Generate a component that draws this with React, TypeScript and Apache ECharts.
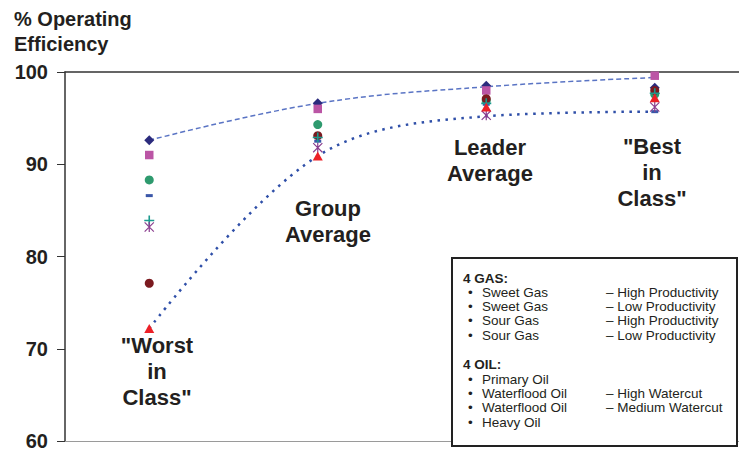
import React, { useEffect, useRef } from "react";
import * as echarts from "echarts";

const categories = ['"Worst in Class"', "Group Average", "Leader Average", '"Best in Class"'];
const yTicks = [60, 70, 80, 90, 100];

const sweetGasHigh = [92.6, 96.6, 98.5, 98.3];
const sweetGasLow = [91.0, 96.0, 98.0, 99.6];
const sourGasHigh = [88.3, 94.3, 96.9, 97.6];
const sourGasLow = [86.6, 92.5, 96.5, 95.7];
const primaryOil = [77.1, 93.1, 97.1, 98.0];
const waterfloodHigh = [83.9, 92.9, 96.6, 97.7];
const waterfloodMedium = [83.2, 91.8, 95.3, 96.2];
const heavyOil = [72.2, 90.9, 96.2, 97.2];

const upperEnvelope = [92.6, 96.6, 98.4, 99.4];
const lowerEnvelope = [72.2, 90.9, 95.2, 95.7];

const gasItems = [
  ["Sweet Gas", "– High Productivity"],
  ["Sweet Gas", "– Low Productivity"],
  ["Sour Gas", "– High Productivity"],
  ["Sour Gas", "– Low Productivity"],
];
const oilItems = [
  ["Primary Oil", ""],
  ["Waterflood Oil", "– High Watercut"],
  ["Waterflood Oil", "– Medium Watercut"],
  ["Heavy Oil", ""],
];

const categoryLabelLines = [
  ['"Worst', "in", 'Class"'],
  ["Group", "Average"],
  ["Leader", "Average"],
  ['"Best', "in", 'Class"'],
];

const FONT = "'Liberation Sans', Arial, sans-serif";

const PLUS = "path://M4.2,0H5.8V4.2H10V5.8H5.8V10H4.2V5.8H0V4.2H4.2Z";
const STAR =
  "path://M4.4,0H5.6V10H4.4Z M0,0.8L0.8,0L10,9.2L9.2,10Z M9.2,0L10,0.8L0.8,10L0,9.2Z";

export default function App() {
  const ref = useRef<HTMLDivElement>(null);
  useEffect(() => {
    if (!ref.current) return;
    const chart = echarts.init(ref.current, null, { renderer: "svg" });

    const scatter = (name: string, data: number[], symbol: string, size: any, color: string, z: number) => ({
      name,
      type: "scatter",
      data,
      symbol,
      symbolSize: size,
      itemStyle: { color, opacity: 1 },
      z,
    });

    const graphics: any[] = [];
    graphics.push({
      type: "text",
      left: 14,
      top: 6,
      style: {
        text: "% Operating\nEfficiency",
        font: `bold 20px ${FONT}`,
        fill: "#231f20",
        lineHeight: 25,
      },
    });
    const catPos = [
      { x: 157, y: 371 },
      { x: 328, y: 221.5 },
      { x: 490, y: 160.5 },
      { x: 652, y: 172.5 },
    ];
    categoryLabelLines.forEach((lines, i) => {
      graphics.push({
        type: "text",
        x: catPos[i].x,
        y: catPos[i].y,
        style: {
          text: lines.join("\n"),
          font: `bold 22px ${FONT}`,
          fill: "#231f20",
          align: "center",
          verticalAlign: "middle",
          lineHeight: 26,
        },
        z: 10,
      });
    });
    graphics.push({
      type: "rect",
      shape: { x: 452, y: 258, width: 285, height: 188 },
      style: { fill: "#ffffff", stroke: "#222222", lineWidth: 2 },
      z: 20,
    });
    const LF = `13.5px ${FONT}`;
    const addHeading = (t: string, y: number) =>
      graphics.push({
        type: "text",
        x: 463,
        y,
        style: { text: t, font: `bold 13.5px ${FONT}`, fill: "#231f20", verticalAlign: "middle" },
        z: 21,
      });
    const addRow = (item: string[], y: number) => {
      graphics.push({
        type: "text",
        x: 468,
        y,
        style: { text: "•", font: LF, fill: "#231f20", verticalAlign: "middle" },
        z: 21,
      });
      graphics.push({
        type: "text",
        x: 482,
        y,
        style: { text: item[0], font: LF, fill: "#231f20", verticalAlign: "middle" },
        z: 21,
      });
      if (item[1])
        graphics.push({
          type: "text",
          x: 606,
          y,
          style: { text: item[1], font: LF, fill: "#231f20", verticalAlign: "middle" },
          z: 21,
        });
    };
    addHeading("4 GAS:", 278.5);
    gasItems.forEach((it, i) => addRow(it, 292 + i * 14.4));
    addHeading("4 OIL:", 364.5);
    oilItems.forEach((it, i) => addRow(it, 379 + i * 14.4));

    chart.setOption({
      animation: false,
      backgroundColor: "#ffffff",
      grid: { left: 65, right: 0, top: 72, bottom: 9 },
      xAxis: [
        {
          type: "category",
          data: categories,
          boundaryGap: true,
          axisLine: { show: true, lineStyle: { color: "#9a9a9a", width: 1 } },
          axisTick: { show: false },
          axisLabel: { show: false },
          splitLine: { show: false },
        },
        {
          type: "category",
          data: categories,
          position: "top",
          boundaryGap: true,
          axisLine: { show: true, lineStyle: { color: "#333333", width: 1.5 } },
          axisTick: { show: false },
          axisLabel: { show: false },
          splitLine: { show: false },
        },
      ],
      yAxis: {
        type: "value",
        min: yTicks[0],
        max: yTicks[yTicks.length - 1],
        interval: 10,
        axisLine: { show: true, lineStyle: { color: "#333333", width: 1.5 } },
        axisTick: { show: true, length: 8, lineStyle: { color: "#333333", width: 1 } },
        axisLabel: {
          margin: 17,
          fontFamily: FONT,
          fontWeight: "bold",
          fontSize: 20,
          color: "#231f20",
        },
        splitLine: { show: false },
      },
      series: [
        {
          name: "Upper",
          type: "line",
          data: upperEnvelope,
          smooth: 0.4,
          symbol: "none",
          lineStyle: { color: "#5a74c4", width: 1.5, type: [5, 3] },
          z: 1,
        },
        {
          name: "Lower",
          type: "line",
          data: lowerEnvelope,
          smooth: 0.35,
          symbol: "none",
          lineStyle: { color: "#2f4fa8", width: 2.5, type: [2.5, 5.5] },
          z: 1,
        },
        scatter("Sweet Gas – High Productivity", sweetGasHigh, "diamond", [10, 10], "#2b2b7d", 2),
        scatter("Sweet Gas – Low Productivity", sweetGasLow, "rect", [8.5, 8.5], "#bb55a5", 3),
        scatter("Sour Gas – High Productivity", sourGasHigh, "circle", 9, "#2e9a6e", 3),
        scatter("Primary Oil", primaryOil, "circle", 9, "#7b1a1f", 4),
        scatter("Sour Gas – Low Productivity", sourGasLow, "rect", [7, 3], "#3a57a8", 5),
        scatter("Waterflood Oil – High Watercut", waterfloodHigh, PLUS, [10, 10], "#1b9a8e", 5),
        scatter("Waterflood Oil – Medium Watercut", waterfloodMedium, STAR, [10, 10], "#8a3c8e", 5),
        scatter("Heavy Oil", heavyOil, "triangle", [10, 9], "#ec2027", 6),
      ],
      graphic: graphics,
    });
    return () => chart.dispose();
  }, []);
  return <div ref={ref} style={{ width: 739, height: 451, position: "absolute", left: 0, top: 0 }} />;
}
